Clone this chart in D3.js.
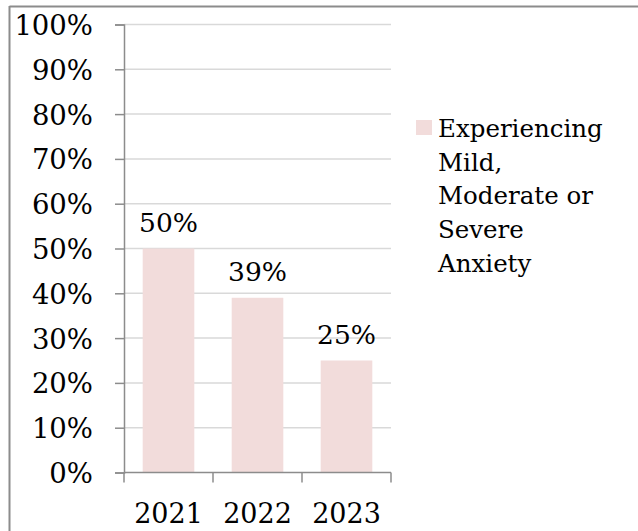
<!DOCTYPE html>
<html><head><meta charset="utf-8">
<script src="https://cdn.jsdelivr.net/npm/d3@7"></script>
<style>body{margin:0;background:#fff}svg{display:block}</style>
</head><body>
<svg id="c" width="638" height="531"></svg>
<script>
const categories = ["2021", "2022", "2023"];
const values = [0.50, 0.39, 0.25];
const yTicks = [0, 0.1, 0.2, 0.3, 0.4, 0.5, 0.6, 0.7, 0.8, 0.9, 1.0];
const seriesName = ["Experiencing", "Mild,", "Moderate or", "Severe", "Anxiety"];

const font = "'DejaVu Serif', serif";
const svg = d3.select("#c");
const barColor = "#f2dcdb";

// frame (top and left only)
svg.append("line").attr("x1", 9.5).attr("x2", 638).attr("y1", 6.5).attr("y2", 6.5).attr("stroke", "#8c8c8c").attr("stroke-width", 2);
svg.append("line").attr("x1", 9.5).attr("x2", 9.5).attr("y1", 6).attr("y2", 531).attr("stroke", "#8c8c8c").attr("stroke-width", 2);

const x = d3.scaleBand().domain(categories).range([124, 391]).paddingInner(0.42).paddingOuter(0.21);
const y = d3.scaleLinear().domain([0, 1]).range([472.5, 24.5]);

// gridlines
svg.append("g").selectAll("line").data(yTicks.filter(d => d > 0)).join("line")
  .attr("x1", 124).attr("x2", 391).attr("y1", d => y(d)).attr("y2", d => y(d))
  .attr("stroke", "#d9d9d9").attr("stroke-width", 1.5);

// bars
svg.append("g").selectAll("rect").data(values).join("rect")
  .attr("x", (d, i) => x(categories[i])).attr("width", x.bandwidth())
  .attr("y", d => y(d)).attr("height", d => y(0) - y(d))
  .attr("fill", barColor);

// y axis
const yAxis = svg.append("g").attr("transform", "translate(124,0)")
  .call(d3.axisLeft(y).tickValues(yTicks).tickFormat(d3.format(".0%")).tickSizeOuter(0).tickSize(9).tickPadding(22));
yAxis.select(".domain").attr("stroke", "#8c8c8c").attr("stroke-width", 1.5);
yAxis.selectAll(".tick line").attr("stroke", "#8c8c8c").attr("stroke-width", 1.5);
yAxis.selectAll("text").attr("font-family", font).attr("font-size", 27.5).attr("fill", "#000").attr("dy", "0.36em");

// x axis
const xEdges = d3.scaleLinear().domain([0, 3]).range([124, 391]);
const xAxis = svg.append("g").attr("transform", `translate(0,${y(0)})`);
xAxis.append("line").attr("x1", 124).attr("x2", 391).attr("stroke", "#8c8c8c").attr("stroke-width", 1.5);
xAxis.selectAll("line.t").data([0, 1, 2, 3]).join("line").attr("class", "t")
  .attr("x1", d => xEdges(d)).attr("x2", d => xEdges(d)).attr("y1", 0).attr("y2", 10)
  .attr("stroke", "#8c8c8c").attr("stroke-width", 1.5);
xAxis.selectAll("text").data(categories).join("text")
  .attr("x", d => x(d) + x.bandwidth() / 2).attr("y", 50.5)
  .attr("text-anchor", "middle").attr("font-family", font).attr("font-size", 27).attr("fill", "#000")
  .text(d => d);

// data labels
svg.append("g").selectAll("text").data(values).join("text")
  .attr("x", (d, i) => x(categories[i]) + x.bandwidth() / 2).attr("y", d => y(d) - 16.5)
  .attr("text-anchor", "middle").attr("font-family", font).attr("font-size", 26.5).attr("fill", "#000")
  .text(d => d3.format(".0%")(d));

// legend
const lg = svg.append("g");
lg.append("rect").attr("x", 416).attr("y", 120).attr("width", 16).attr("height", 15).attr("fill", barColor);
lg.selectAll("text").data(seriesName).join("text")
  .attr("x", 438).attr("y", (d, i) => 137 + i * 33.7)
  .attr("font-family", font).attr("font-size", 24.5).attr("fill", "#000")
  .text(d => d);
</script>
</body></html>
